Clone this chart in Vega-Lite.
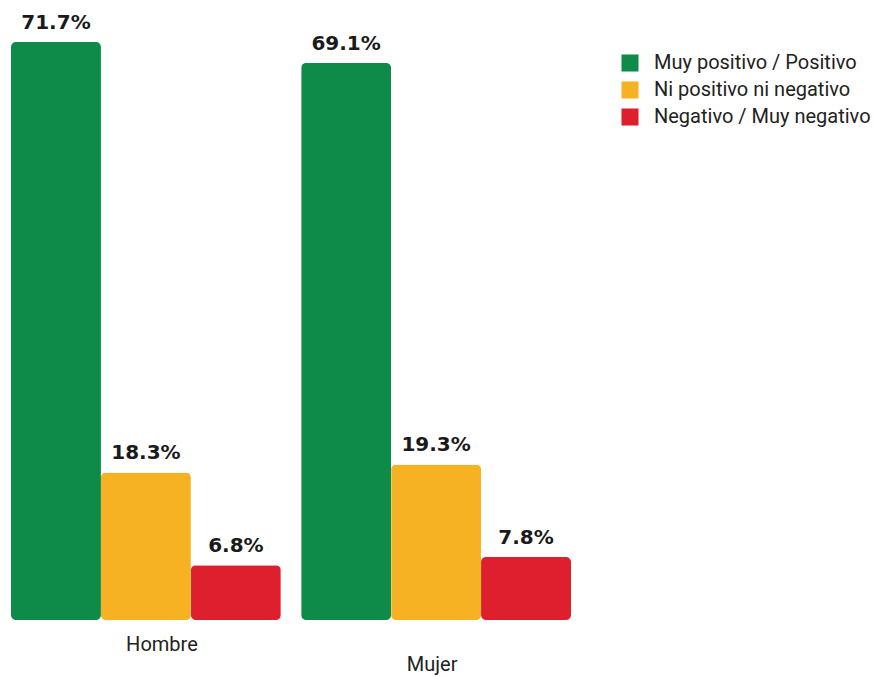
{
  "$schema": "https://vega.github.io/schema/vega-lite/v6.json",
  "autosize": "none",
  "width": 560,
  "height": 620,
  "padding": {"left": 11, "top": 0, "right": 303, "bottom": 57},
  "background": "white",
  "config": {"view": {"stroke": null}, "font": "Roboto"},
  "data": {
    "values": [
      {"sexo": "Hombre", "opinion": "Muy positivo / Positivo", "pct": 71.7},
      {"sexo": "Hombre", "opinion": "Ni positivo ni negativo", "pct": 18.3},
      {"sexo": "Hombre", "opinion": "Negativo / Muy negativo", "pct": 6.8},
      {"sexo": "Mujer", "opinion": "Muy positivo / Positivo", "pct": 69.1},
      {"sexo": "Mujer", "opinion": "Ni positivo ni negativo", "pct": 19.3},
      {"sexo": "Mujer", "opinion": "Negativo / Muy negativo", "pct": 7.8}
    ]
  },
  "encoding": {
    "x": {
      "field": "sexo", "type": "nominal", "sort": ["Hombre", "Mujer"],
      "scale": {"paddingInner": 0.07, "paddingOuter": 0},
      "axis": {
        "title": null, "domain": false, "ticks": false, "labelAngle": 0,
        "labelFontSize": 20, "labelColor": "#222", "labelFont": "Roboto",
        "labelPadding": {"condition": {"test": "datum.value == 'Mujer'", "value": 34}, "value": 14},
        "labelOffset": {"condition": {"test": "datum.value == 'Mujer'", "value": -4}, "value": 16}
      }
    },
    "xOffset": {
      "field": "opinion", "type": "nominal",
      "sort": ["Muy positivo / Positivo", "Ni positivo ni negativo", "Negativo / Muy negativo"],
      "scale": {"paddingInner": 0, "paddingOuter": 0}
    },
    "y": {
      "field": "pct", "type": "quantitative",
      "scale": {"domain": [0, 76.9], "nice": false},
      "axis": null
    }
  },
  "layer": [
    {
      "mark": {"type": "bar", "cornerRadius": 5},
      "encoding": {
        "color": {
          "field": "opinion", "type": "nominal",
          "sort": ["Muy positivo / Positivo", "Ni positivo ni negativo", "Negativo / Muy negativo"],
          "scale": {
            "domain": ["Muy positivo / Positivo", "Ni positivo ni negativo", "Negativo / Muy negativo"],
            "range": ["#0e8a49", "#f6b223", "#de1f2d"]
          },
          "legend": {
            "title": null, "orient": "none", "legendX": 609, "legendY": 53,
            "symbolType": "square", "symbolSize": 290, "symbolStrokeWidth": 0,
            "labelFontSize": 20, "labelColor": "#222", "labelFont": "Roboto",
            "labelLimit": 400, "rowPadding": 7, "labelOffset": 14
          }
        }
      }
    },
    {
      "mark": {
        "type": "text", "baseline": "bottom", "dy": -9, "fontSize": 20, "fontWeight": "bold",
        "color": "#1a1a1a", "font": "DejaVu Sans",
        "text": {"expr": "format(datum.pct, '.1f') + '%'"}
      }
    }
  ]
}
